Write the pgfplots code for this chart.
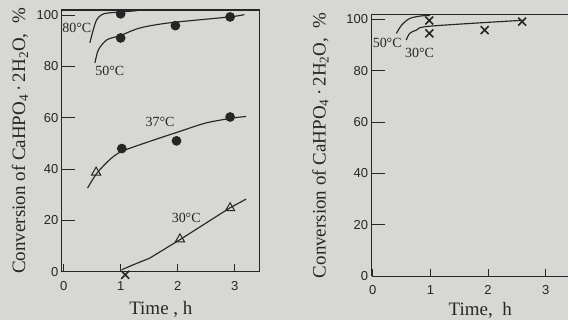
\documentclass[border=0pt]{standalone}
\usepackage{fontspec}
\setmainfont{Liberation Serif}
\newfontfamily\tickfont{Liberation Sans}
\usepackage{pgfplots}
\pgfplotsset{compat=1.18}
\definecolor{bg}{RGB}{215,215,211}
\definecolor{ink}{RGB}{38,38,38}

\tikzset{temp/.style={font=\fontsize{14}{14}\selectfont, text=ink, inner sep=0pt}}
\pgfplotsset{
  panel/.style={
    scale only axis, anchor=south west,
    axis line style={ink, line width=1.1pt},
    ymin=0, ymax=102,
    ytick={0,20,40,60,80,100}, xtick={0,1,2,3},
    tick align=inside,
    xtick pos=bottom, ytick pos=left,
    xtick style={ink, line width=1.1pt, /pgfplots/major tick length=7.5pt},
    ytick style={ink, line width=1.1pt, /pgfplots/major tick length=13pt},
    ticklabel style={font=\tickfont\fontsize{13}{13}\selectfont, text=ink},
    xticklabel style={yshift=-6pt},
    /pgf/number format/assume math mode=true,
    label style={font=\fontsize{19}{19}\selectfont, text=ink},
    clip=false,
    every axis plot/.append style={ink, line width=1.1pt},
  },
  curve/.style={smooth, no markers, line width=1.15pt},
  dots/.style={only marks, mark=*, mark size=4.3pt, mark options={fill=ink, draw=ink}},
  tris/.style={only marks, mark=triangle, mark size=5.3pt, mark options={draw=ink, line width=1pt, fill=none}},
  crosses/.style={only marks, mark=x, mark size=5.6pt, mark options={draw=ink, line width=1.6pt}},
}

\begin{document}
\begin{tikzpicture}
\fill[bg] (0pt,0pt) rectangle (569pt,320pt);

% ---------------- left panel ----------------
\begin{axis}[panel,
  at={(62pt,48pt)}, width=198pt, height=262pt,
  xmin=-0.03, xmax=3.44,
  xlabel={Time , h},
  xlabel style={at={(axis description cs:0.5,-0.165)}, anchor=base},
  ylabel={Conversion of CaHPO\textsubscript{4}\,·\,2H\textsubscript{2}O,\ \ \%},
  ylabel style={at={(axis description cs:-0.212,0.5)}, anchor=center},
]
% 80 C
\addplot[curve] coordinates {(0.46,89.2) (0.52,94.3) (0.58,98.2) (0.67,100.2) (0.81,100.9) (1.28,101.7)};
\addplot[dots] coordinates {(1.0,100.5)};
% 50 C
\addplot[curve] coordinates {(0.55,81.4) (0.61,86.5) (0.76,90.4) (0.99,92) (1.34,95) (1.86,97) (2.91,99.3) (3.17,100.2)};
\addplot[dots] coordinates {(1.0,91.1) (1.96,95.9) (2.92,99.3)};
% 37 C
\addplot[curve] coordinates {(0.42,32.6) (0.58,38.3) (0.81,43.7) (1.02,46.9) (1.51,50.8) (2.04,54.7) (2.5,58) (2.97,59.9) (3.2,60.5)};
\addplot[dots] coordinates {(1.02,48) (1.98,51) (2.92,60.3)};
\addplot[tris] coordinates {(0.57,38.7)};
% 30 C
\addplot[ink, line width=1.15pt, no markers] coordinates {(1.02,0.8) (1.22,2.7) (1.51,5.3) (2.04,12.5) (2.5,19) (2.91,24.8) (3.2,28.3)};
\addplot[tris] coordinates {(2.04,12.7) (2.92,24.8)};
\addplot[crosses] coordinates {(1.08,-1.2)};
\node[temp] at (axis cs:0.23,95) {80°C};
\node[temp] at (axis cs:0.81,78.1) {50°C};
\node[temp] at (axis cs:1.69,58.3) {37°C};
\node[temp] at (axis cs:2.15,21) {30°C};
\end{axis}

% ---------------- right panel (cut at the picture's right edge) ----------------
\begin{axis}[panel,
  at={(372pt,43.6pt)}, width=197pt, height=262pt,
  xmin=-0.02, xmax=3.394,
  axis x line*=bottom, axis y line*=left,
  xlabel={Time,\ \ h},
  xlabel style={at={(axis description cs:0.552,-0.15)}, anchor=base},
  ylabel={Conversion of CaHPO\textsubscript{4}\,·\,2H\textsubscript{2}O,\ \ \%},
  ylabel style={at={(axis description cs:-0.26,0.5)}, anchor=center},
]
\draw[ink, line width=1.1pt] (rel axis cs:0,1) -- (rel axis cs:1,1);
% 50 C
\addplot[curve] coordinates {(0.41,94.6) (0.5,97.8) (0.64,100.4) (0.84,101.4) (0.99,101.5)};
% 30 C
\addplot[curve] coordinates {(0.58,92) (0.64,94.6) (0.76,95.9) (0.99,97.4) (2.6,99.7)};
\addplot[crosses] coordinates {(0.98,99.6) (0.98,94.6) (1.94,95.9) (2.59,99.2)};
\node[temp] at (axis cs:0.25,90.7) {50°C};
\node[temp] at (axis cs:0.81,86.8) {30°C};
\end{axis}
\end{tikzpicture}
\end{document}
